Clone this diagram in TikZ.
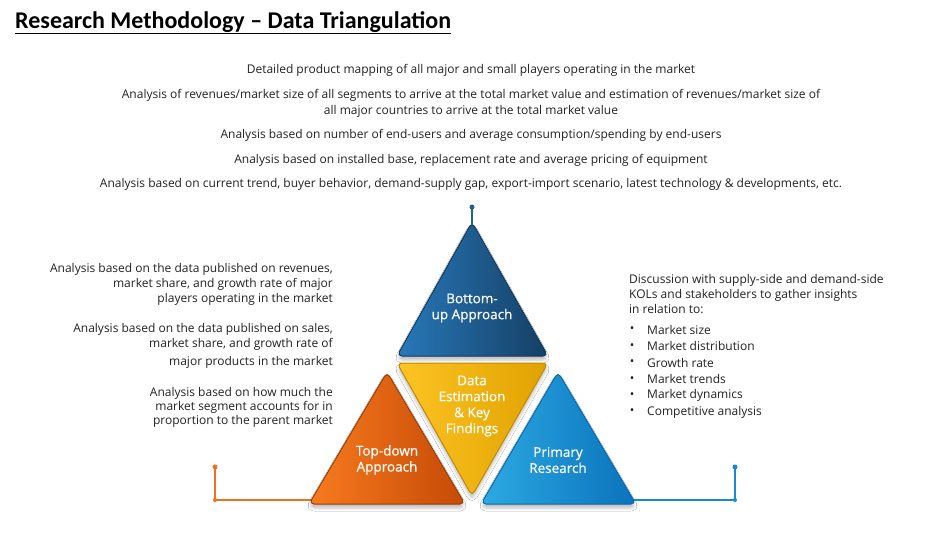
\documentclass[tikz,border=0pt]{standalone}
\usepackage{fontspec}
\setmainfont{Open Sans}
\newfontfamily\titlefont{Carlito}
\newfontfamily\labfont[FakeBold=0.6]{Open Sans}
\usetikzlibrary{shadows.blur}
\definecolor{txt}{HTML}{222222}
\definecolor{bA}{HTML}{2879BA}\definecolor{bB}{HTML}{153F64}\definecolor{bC}{HTML}{113A5E}
\definecolor{yA}{HTML}{FDC423}\definecolor{yB}{HTML}{E0A200}\definecolor{yC}{HTML}{C28A00}
\definecolor{oA}{HTML}{F87B1F}\definecolor{oB}{HTML}{C54A05}\definecolor{oC}{HTML}{9C3C02}
\definecolor{lA}{HTML}{2CAAE2}\definecolor{lB}{HTML}{0A72BC}\definecolor{lC}{HTML}{0A68A8}
\definecolor{oline}{HTML}{F07022}\definecolor{lline}{HTML}{1A8AD0}\definecolor{stem}{HTML}{1F5F93}
\tikzset{
  toptext/.style={font=\fontsize{12}{16}\selectfont, text=txt, align=center, inner sep=0pt},
  sidetext/.style={font=\fontsize{12}{15}\selectfont, text=txt, inner sep=0pt},
  righttext/.style={font=\fontsize{12}{15}\selectfont, text=txt, inner sep=0pt},
  tri/.style={rounded corners=5pt, line width=1pt, line join=round,
     blur shadow={shadow xshift=0pt, shadow yshift=-4pt, shadow opacity=25, shadow blur radius=3pt}},
  tlabel/.style={font=\labfont\fontsize{13.5}{16}\selectfont, text=white, align=center, inner sep=0pt},
  dot/.style={circle, inner sep=0pt, minimum size=5pt},
}
\begin{document}
\begin{tikzpicture}[x=1pt,y=-1pt]
\useasboundingbox[fill=white] (0,0) rectangle (942,545);
% title
\node[anchor=base west, inner sep=0pt, font=\titlefont\bfseries\fontsize{24}{26}\selectfont, text=black] (title) at (15,29) {Research Methodology – Data Triangulation};
\draw[line width=1.3pt] ([yshift=-4.5pt]title.base west) -- ([yshift=-4.5pt]title.base east);
% top texts
\node[toptext] (t1) at (471,70) {Detailed product mapping of all major and small players operating in the market};
\node[toptext] (t2) at (471,103) {Analysis of revenues/market size of all segments to arrive at the total market value and estimation of revenues/market size of\\all major countries to arrive at the total market value};
\node[toptext] (t3) at (471,135) {Analysis based on number of end-users and average consumption/spending by end-users};
\node[toptext] (t4) at (471,160) {Analysis based on installed base, replacement rate and average pricing of equipment};
\node[toptext] (t5) at (471,184) {Analysis based on current trend, buyer behavior, demand-supply gap, export-import scenario, latest technology \& developments, etc.};
% left texts
\node[sidetext, align=right, anchor=east] (l1) at (333,284) {Analysis based on the data published on revenues,\\market share, and growth rate of major\\players operating in the market};
\node[sidetext, align=right, anchor=east] (l2) at (333,346) {Analysis based on the data published on sales,\\market share, and growth rate of\\[3pt]major products in the market};
\node[sidetext, align=right, anchor=east, font=\fontsize{12}{14}\selectfont] (l3) at (333,407) {Analysis based on how much the\\market segment accounts for in\\proportion to the parent market};
% right texts
\node[righttext, align=left, anchor=west] (r1) at (629,294) {Discussion with supply-side and demand-side\\KOLs and stakeholders to gather insights\\in relation to:};
\foreach \t [count=\i] in {Market size, Market distribution, Growth rate, Market trends, Market dynamics, Competitive analysis}{
  \node[righttext, anchor=center] (bd\i) at (632,{330+16.4*(\i-1)}) {•};
  \node[righttext, anchor=west] (bt\i) at (647,{330+16.4*(\i-1)}) {\t};
}
% connectors
\coordinate (stemtop) at (472,207);
\coordinate (apex) at (472,224);
\draw[stem, line width=1.8pt] (stemtop) -- (apex);
\node[dot, fill=stem] (sdot) at (stemtop) {};
\coordinate (odot) at (215,467);
\coordinate (oend) at (312,500);
\draw[oline, line width=1.6pt] (odot) |- (oend);
\node[dot, fill=oline] (od1) at (odot) {};
\node[dot, fill=oline, minimum size=4pt] (od2) at (215,500) {};
\coordinate (ldot) at (735,467);
\coordinate (lend) at (632,500);
\draw[lline, line width=1.6pt] (ldot) |- (lend);
\node[dot, fill=lline] (ld1) at (ldot) {};
\node[dot, fill=lline, minimum size=4pt] (ld2) at (735,500) {};
% triangles
\path[tri, left color=bA, right color=bB, draw=bC] (397,356) -- (472,222) -- (548,356) -- cycle;
\path[tri, left color=yA, right color=yB, draw=yC] (397,363) -- (548,363) -- (472,496) -- cycle;
\path[tri, left color=oA, right color=oB, draw=oC] (309,504) -- (387,372) -- (465,504) -- cycle;
\path[tri, left color=lA, right color=lB, draw=lC] (481,504) -- (558,372) -- (636,504) -- cycle;
% labels
\node[tlabel] (bu) at (472,308) {Bottom-\\up Approach};
\node[tlabel] (de) at (472,406) {Data\\Estimation\\\& Key\\Findings};
\node[tlabel] (td) at (387,460) {Top-down\\Approach};
\node[tlabel] (pr) at (558,460) {Primary\\Research};
\end{tikzpicture}
\end{document}
